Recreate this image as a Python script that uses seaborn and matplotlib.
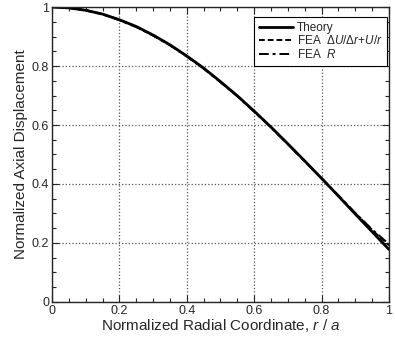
import numpy as np
import pandas as pd
import seaborn as sns
import matplotlib
matplotlib.use('Agg')
import matplotlib.pyplot as plt
from matplotlib.ticker import MultipleLocator, FuncFormatter
from matplotlib.lines import Line2D

# values
r = [0.0, 0.05, 0.1, 0.15, 0.2, 0.25, 0.3, 0.35, 0.4, 0.45, 0.5,
     0.55, 0.6, 0.65, 0.7, 0.75, 0.8, 0.85, 0.9, 0.95, 1.0]
theory = [1.0, 0.997, 0.989, 0.976, 0.957, 0.934, 0.905, 0.872, 0.834, 0.793, 0.747,
          0.699, 0.647, 0.593, 0.536, 0.478, 0.419, 0.359, 0.298, 0.238, 0.178]
fea_du = [1.0, 0.997, 0.988, 0.975, 0.956, 0.933, 0.904, 0.871, 0.833, 0.792, 0.746,
          0.698, 0.646, 0.592, 0.535, 0.478, 0.419, 0.360, 0.301, 0.244, 0.192]
fea_r = [1.0, 0.999, 0.990, 0.976, 0.955, 0.932, 0.903, 0.870, 0.832, 0.791, 0.745,
         0.697, 0.645, 0.591, 0.535, 0.477, 0.420, 0.361, 0.302, 0.246, 0.196]

labels = ['Theory', r'FEA  $\Delta U/\Delta r$+$U/r$', r'FEA  $R$']

df = pd.DataFrame({
    'r': r * 3,
    'u': theory + fea_du + fea_r,
    'series': [labels[0]] * len(r) + [labels[1]] * len(r) + [labels[2]] * len(r),
})

sns.set_style("ticks")
plt.rcParams['font.family'] = ['Liberation Sans', 'DejaVu Sans']
plt.rcParams['mathtext.fontset'] = 'custom'
plt.rcParams['mathtext.rm'] = 'Liberation Sans'
plt.rcParams['mathtext.it'] = 'Liberation Sans:italic'

fig = plt.figure(figsize=(3.95, 3.42), dpi=100)
ax = fig.add_axes([0.1316, 0.117, 0.8532, 0.8625])

sns.lineplot(data=df, x='r', y='u', hue='series', style='series',
             palette=['black'] * 3,
             dashes={labels[0]: '', labels[1]: (3, 1.5), labels[2]: (5, 2, 1.5, 2)},
             ax=ax, legend=False)
lws = [2.0, 1.4, 1.4]
for line, lw in zip(ax.get_lines(), lws):
    line.set_linewidth(lw)

ax.set_xlim(0, 1)
ax.set_ylim(0, 1)
ax.xaxis.set_major_locator(MultipleLocator(0.2))
ax.yaxis.set_major_locator(MultipleLocator(0.2))
ax.xaxis.set_minor_locator(MultipleLocator(0.05))
ax.yaxis.set_minor_locator(MultipleLocator(0.05))
fmt = FuncFormatter(lambda v, p: '{:g}'.format(round(v, 2)))
ax.xaxis.set_major_formatter(fmt)
ax.yaxis.set_major_formatter(fmt)
ax.tick_params(which='both', direction='in', top=True, right=True, labelsize=9, pad=2)
ax.tick_params(which='major', length=5, width=0.8)
ax.tick_params(which='minor', length=3, width=0.8)
ax.grid(True, which='major', linestyle=':', color='#555555', linewidth=0.9)
for s in ax.spines.values():
    s.set_linewidth(1.0)

ax.set_xlabel(r'Normalized Radial Coordinate, $r$ / $a$', fontsize=11, labelpad=0)
ax.set_ylabel('Normalized Axial Displacement', fontsize=11, labelpad=3)

handles = [Line2D([], [], color='black', lw=2.0),
           Line2D([], [], color='black', lw=1.4, dashes=(3, 1.5)),
           Line2D([], [], color='black', lw=1.4, dashes=(5, 2, 1.5, 2))]
leg = ax.legend(handles, labels, loc='upper right', bbox_to_anchor=(0.994, 0.966),
                fontsize=8.5, frameon=True, fancybox=False, edgecolor='black',
                framealpha=1, handlelength=2.9, handletextpad=0.3, borderpad=0.4,
                labelspacing=0.05, borderaxespad=0)
leg.get_frame().set_linewidth(0.8)

plt.savefig('out.png', dpi=100)
